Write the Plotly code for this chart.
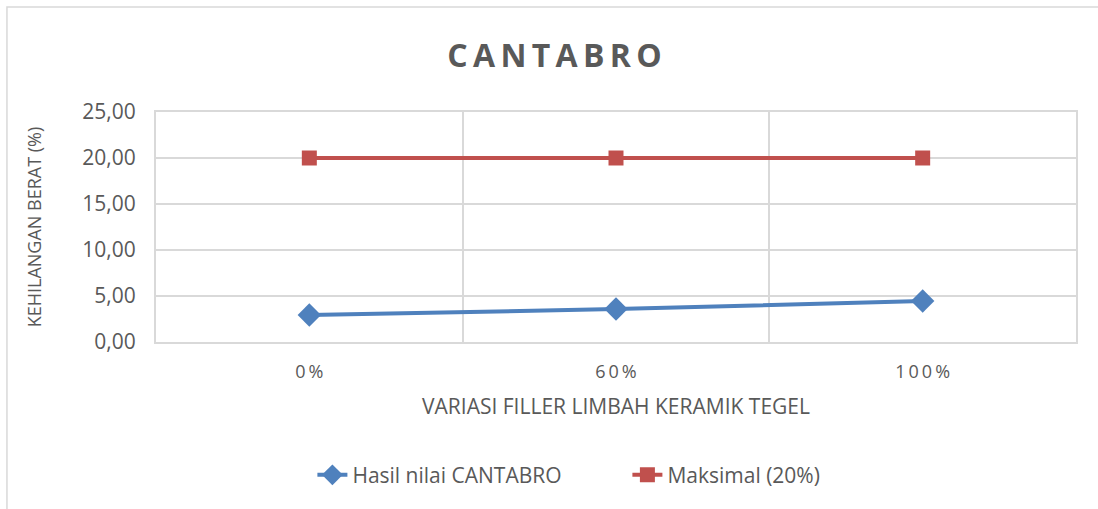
import plotly.graph_objects as go

categories = ["0%", "60%", "100%"]
hasil = [2.93, 3.58, 4.45]
maksimal = [20.0, 20.0, 20.0]
ytick_vals = [0, 5, 10, 15, 20, 25]
ytick_text = ["0,00", "5,00", "10,00", "15,00", "20,00", "25,00"]

font = "Open Sans"
grey = "#595959"
thin = "\u2009"

def spaced(s):
    # mimic the wide letter spacing of the original
    return thin.join(s)

fig = go.Figure()
fig.add_trace(go.Scatter(
    x=categories, y=hasil, name="Hasil nilai CANTABRO",
    mode="lines+markers",
    line=dict(color="#4F81BD", width=4),
    marker=dict(symbol="diamond", size=18, color="#4F81BD"),
))
fig.add_trace(go.Scatter(
    x=categories, y=maksimal, name="Maksimal (20%)",
    mode="lines+markers",
    line=dict(color="#C0504D", width=4),
    marker=dict(symbol="square", size=15, color="#C0504D"),
))

fig.update_layout(
    width=1098, height=509,
    margin=dict(l=156, r=22, t=112, b=167),
    paper_bgcolor="white", plot_bgcolor="white",
    font=dict(family=font, color=grey, size=18),
    title=dict(text="<b>" + spaced("CANTABRO") + "</b>", x=0.505, xanchor="center", y=0.89, yanchor="middle",
               font=dict(family=font, size=32, color=grey)),
    showlegend=True,
    legend=dict(orientation="h", x=0.17, xanchor="left", y=-0.49, yanchor="top",
                font=dict(size=21, color=grey), entrywidth=270, entrywidthmode="pixels"),
    shapes=[dict(type="rect", xref="paper", yref="paper",
                 x0=-0.162, x1=1.2, y0=-1.5, y1=1.456,
                 line=dict(color="#D9D9D9", width=1.5), layer="below")],
)
fig.update_xaxes(
    type="category", tickson="boundaries", range=[-0.5, 2.5],
    tickvals=categories, ticktext=[spaced(c) for c in categories],
    showgrid=True, gridcolor="#D9D9D9", gridwidth=2,
    showline=True, linecolor="#D9D9D9", linewidth=2, mirror=True,
    ticks="", tickfont=dict(size=18, color=grey), ticklabelstandoff=12,
    title=dict(text="VARIASI FILLER LIMBAH KERAMIK TEGEL", font=dict(size=21, color=grey), standoff=18),
)
fig.update_yaxes(
    range=[0, 25], tickvals=ytick_vals, ticktext=ytick_text,
    showgrid=True, gridcolor="#D9D9D9", gridwidth=2,
    showline=True, linecolor="#D9D9D9", linewidth=2, mirror=True,
    zeroline=False, ticks="", tickfont=dict(size=21, color=grey), ticklabelstandoff=14,
    title=dict(text="KEHILANGAN BERAT (%)", font=dict(size=18, color=grey), standoff=36),
)

fig.write_html("out.html", config={"displayModeBar": False},
               post_script="document.body.style.margin='0';")
